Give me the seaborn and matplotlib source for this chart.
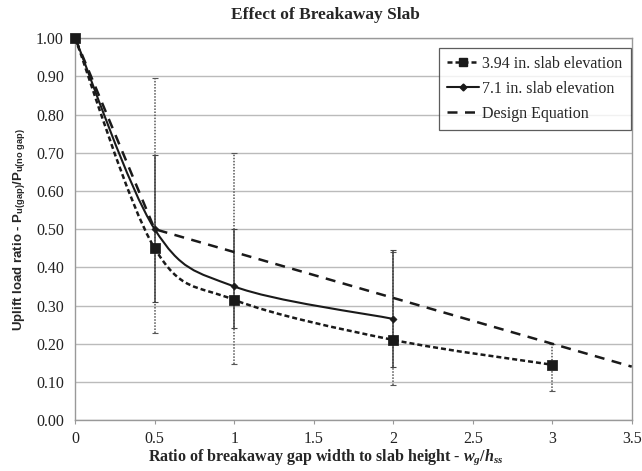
import numpy as np
import matplotlib
matplotlib.use('Agg')
import matplotlib.pyplot as plt
import seaborn as sns
from matplotlib.path import Path
from matplotlib.patches import PathPatch
from matplotlib.lines import Line2D

# Data
gap_ratio_a = [0, 0.5, 1, 2, 3]
ratio_a = [1.00, 0.45, 0.315, 0.21, 0.145]
err_lo_a = [1.00, 0.228, 0.147, 0.092, 0.075]
err_hi_a = [1.00, 0.895, 0.70, 0.44, 0.20]

gap_ratio_b = [0, 0.5, 1, 2]
ratio_b = [1.00, 0.50, 0.35, 0.265]
err_lo_b = [1.00, 0.31, 0.24, 0.14]
err_hi_b = [1.00, 0.695, 0.50, 0.445]

design_x = [0, 0.5, 3.5]
design_y = [1.00, 0.50, 0.14]

labels = ['3.94 in. slab elevation', '7.1 in. slab elevation', 'Design Equation']
x_ticks = [0, 0.5, 1, 1.5, 2, 2.5, 3, 3.5]
x_tick_labels = ['0', '0.5', '1', '1.5', '2', '2.5', '3', '3.5']
y_ticks = [0.0, 0.1, 0.2, 0.3, 0.4, 0.5, 0.6, 0.7, 0.8, 0.9, 1.0]

sns.set_style('white')
plt.rcParams['font.family'] = ['Liberation Serif', 'DejaVu Serif']
plt.rcParams['mathtext.fontset'] = 'custom'
plt.rcParams['mathtext.it'] = 'Liberation Serif:italic:bold'
plt.rcParams['mathtext.rm'] = 'Liberation Serif:bold'

ink = '#1a1a1a'


def smooth_path(xs, ys):
    # Excel-style smoothed line drawn as cubic Bezier segments
    pts = np.column_stack([xs, ys]).astype(float)
    n = len(pts)
    verts = [pts[0]]
    codes = [Path.MOVETO]
    for i in range(n - 1):
        p_prev = pts[i - 1] if i > 0 else pts[i]
        p_next2 = pts[i + 2] if i + 2 < n else pts[i + 1]
        c1 = pts[i] + (pts[i + 1] - p_prev) / 6
        c2 = pts[i + 1] - (p_next2 - pts[i]) / 6
        verts += [c1, c2, pts[i + 1]]
        codes += [Path.CURVE4] * 3
    return Path(verts, codes)


fig = plt.figure(figsize=(6.42, 4.71), dpi=100)
ax = fig.add_axes([0.117, 0.108, 0.867, 0.811])

# Error bars
eb_a = ax.errorbar(gap_ratio_a, ratio_a,
                   yerr=[np.array(ratio_a) - np.array(err_lo_a), np.array(err_hi_a) - np.array(ratio_a)],
                   fmt='none', ecolor='#555555', elinewidth=1.1, capsize=2, capthick=0.8, zorder=2)
eb_a[2][0].set_linestyle((0, (1, 1)))
ax.errorbar(gap_ratio_b, ratio_b,
            yerr=[np.array(ratio_b) - np.array(err_lo_b), np.array(err_hi_b) - np.array(ratio_b)],
            fmt='none', ecolor='#444444', elinewidth=1.1, capsize=2, capthick=0.8, zorder=2)

# Smoothed series lines
ax.add_patch(PathPatch(smooth_path(gap_ratio_a, ratio_a), fill=False, edgecolor=ink,
                       lw=1.8, linestyle=(0, (2, 1.2)), zorder=3))
ax.add_patch(PathPatch(smooth_path(gap_ratio_b, ratio_b), fill=False, edgecolor=ink,
                       lw=1.5, linestyle='-', zorder=3))
sns.lineplot(x=design_x, y=design_y, ax=ax, color=ink, lw=1.8,
             linestyle=(0, (4, 3)), zorder=3)

# Markers
sns.scatterplot(x=gap_ratio_a, y=ratio_a, ax=ax, marker='s', s=45, color=ink,
                edgecolor=ink, zorder=4, clip_on=False)
sns.scatterplot(x=gap_ratio_b, y=ratio_b, ax=ax, marker='D', s=14, color=ink,
                edgecolor=ink, zorder=4, clip_on=False)

ax.set_xlim(0, 3.5)
ax.set_ylim(0, 1.0)
ax.set_xticks(x_ticks)
ax.set_xticklabels(x_tick_labels)
ax.set_yticks(y_ticks)
ax.set_yticklabels([f'{v:.2f}' for v in y_ticks])
ax.tick_params(axis='both', labelsize=11.5, colors='#222222')
ax.tick_params(axis='x', length=3, color='#999999', direction='out', bottom=True, pad=5)
ax.tick_params(axis='y', length=0, pad=8)
ax.yaxis.grid(True, color='#bbbbbb', lw=1.0)
ax.set_axisbelow(True)
for side in ['left', 'bottom', 'right', 'top']:
    ax.spines[side].set_color('#999999')
    ax.spines[side].set_linewidth(1.0)

ax.set_title('Effect of Breakaway Slab', fontsize=12.5, fontweight='bold', pad=14, x=0.45)
ax.set_xlabel('Ratio of breakaway gap width to slab height - $w_g/h_{ss}$',
              fontsize=11.5, fontweight='bold')
ax.xaxis.set_label_coords(0.45, -0.072)
ax.set_ylabel(r'Uplift load ratio - P$_{\mathregular{u(gap)}}$/P$_{\mathregular{u(no\ gap)}}$',
              fontsize=9.5, fontweight='bold', family=['Liberation Sans', 'DejaVu Sans'])
ax.yaxis.set_label_coords(-0.085, 0.5)

handles = [
    Line2D([], [], color=ink, lw=1.8, linestyle=(0, (2, 1.2)), marker='s', markersize=6),
    Line2D([], [], color=ink, lw=1.5, linestyle='-', marker='D', markersize=3.5),
    Line2D([], [], color=ink, lw=1.8, linestyle=(0, (4, 3))),
]
leg = ax.legend(handles, labels, loc='upper right', bbox_to_anchor=(0.998, 0.974),
                borderaxespad=0, fontsize=11.5, frameon=True, fancybox=False,
                edgecolor='#333333', handlelength=2.0, handletextpad=0.2,
                borderpad=0.5, labelspacing=0.55)
leg.get_frame().set_linewidth(0.9)

plt.savefig('out.png', dpi=100)
